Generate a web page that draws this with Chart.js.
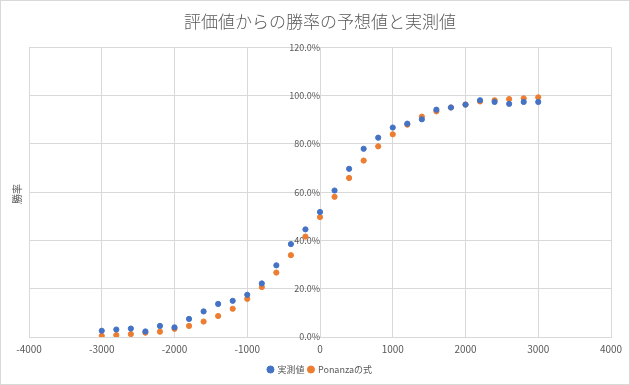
<!DOCTYPE html>
<html>
<head>
<meta charset="utf-8">
<script src="https://cdn.jsdelivr.net/npm/chart.js@4.4.0/dist/chart.umd.min.js"></script>
<style>
  body { margin: 0; background: #fff; }
  #wrap { width: 630px; height: 385px; box-sizing: border-box; border: 1px solid #d9d9d9; }
</style>
</head>
<body>
<div id="wrap"><canvas id="myChart" width="628" height="383"></canvas></div>
<script>
// 評価値 (x) と勝率 (%)
const evals = [-3000, -2800, -2600, -2400, -2200, -2000, -1800, -1600, -1400, -1200, -1000, -800, -600, -400, -200,
  0, 200, 400, 600, 800, 1000, 1200, 1400, 1600, 1800, 2000, 2200, 2400, 2600, 2800, 3000];
const measured = [2.6, 3.1, 3.5, 2.3, 4.6, 4.0, 7.5, 10.6, 13.7, 15.0, 17.5, 22.2, 29.7, 38.5, 44.6,
  51.8, 60.7, 69.7, 78.0, 82.6, 86.8, 88.4, 90.2, 94.2, 95.1, 96.3, 98.1, 97.4, 96.6, 97.4, 97.4];
const ponanza = [0.5, 0.8, 1.2, 1.8, 2.2, 3.4, 4.6, 6.4, 8.7, 11.7, 15.8, 20.7, 26.7, 33.9, 41.6,
  49.7, 58.1, 65.9, 73.1, 79.0, 84.0, 88.0, 91.3, 93.5, 95.1, 96.3, 97.6, 98.1, 98.6, 98.9, 99.3];
const seriesNames = ['実測値', 'Ponanzaの式'];

const font = "'Noto Sans CJK JP', 'Noto Sans', sans-serif";
const toPoints = arr => evals.map((x, i) => ({ x: x, y: arr[i] }));

// 縦軸タイトル
const yTitle = {
  id: 'yTitle',
  afterDraw(chart) {
    const c = chart.ctx;
    c.save();
    c.translate(16, 193);
    c.rotate(-Math.PI / 2);
    c.font = '10px ' + font;
    c.fillStyle = '#595959';
    c.textAlign = 'center';
    c.textBaseline = 'middle';
    c.fillText('勝率', 0, 0);
    c.restore();
  }
};

const ctx = document.getElementById('myChart');
const myChart = new Chart(ctx, {
  type: 'scatter',
  data: {
    datasets: [
      {
        label: seriesNames[0],
        data: toPoints(measured),
        backgroundColor: '#4472C4',
        borderColor: '#4472C4',
        pointRadius: 2.6
      },
      {
        label: seriesNames[1],
        data: toPoints(ponanza),
        backgroundColor: '#ED7D31',
        borderColor: '#ED7D31',
        pointRadius: 2.6
      }
    ]
  },
  options: {
    responsive: false,
    animation: false,
    layout: { padding: { left: 28, right: 18, top: 0, bottom: 0 } },
    plugins: {
      title: {
        display: true,
        text: '評価値からの勝率の予想値と実測値',
        color: '#595959',
        font: { family: font, size: 17, weight: 300 },
        padding: { top: 10, bottom: 16 }
      },
      legend: {
        position: 'bottom',
        labels: {
          usePointStyle: true,
          pointStyle: 'circle',
          boxWidth: 5,
          boxHeight: 5,
          padding: 4,
          color: '#595959',
          font: { family: font, size: 9 }
        }
      },
      tooltip: { enabled: false }
    },
    scales: {
      x: {
        type: 'linear',
        min: -4000,
        max: 4000,
        ticks: {
          stepSize: 1000,
          color: '#595959',
          font: { family: font, size: 10 },
          padding: 6,
          callback: v => String(v)
        },
        grid: { color: '#d9d9d9', drawTicks: false },
        border: { color: '#d9d9d9' }
      },
      y: {
        type: 'linear',
        position: { x: 0 },
        min: 0,
        max: 120,
        ticks: {
          stepSize: 20,
          color: '#595959',
          font: { family: font, size: 9 },
          padding: 3,
          callback: v => v.toFixed(1) + '%'
        },
        grid: { color: '#d9d9d9', drawTicks: false },
        border: { color: '#d9d9d9' }
      }
    }
  },
  plugins: [yTitle]
});
</script>
</body>
</html>
